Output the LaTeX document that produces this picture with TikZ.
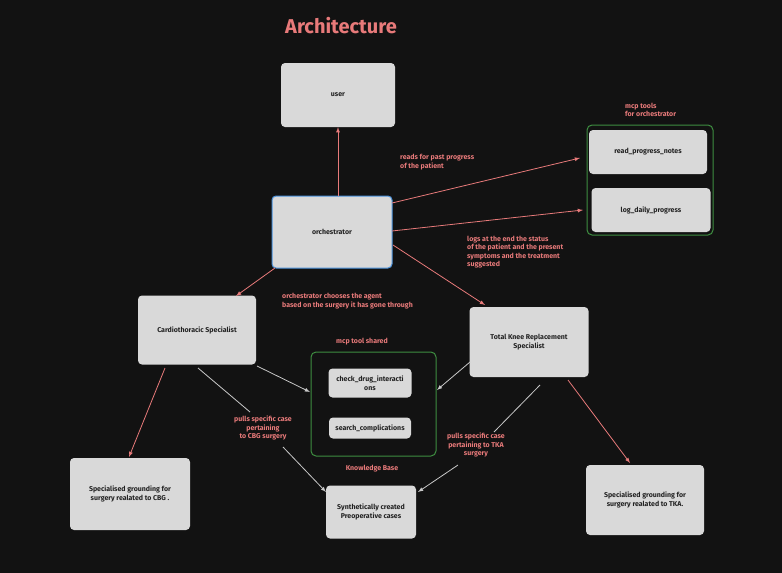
\documentclass[tikz,border=0pt]{standalone}
\usepackage{fontspec}
\setmainfont{Fira Sans}
\begin{document}
\begin{tikzpicture}[x=1pt,y=-1pt,
  box/.style={fill=boxc,rounded corners=4pt,draw=none,font=\bfseries\fontsize{7}{8.5}\selectfont,text=textc,align=center,inner sep=0pt},
  lab/.style={text=redc,font=\bfseries\fontsize{7}{8.5}\selectfont,inner sep=0pt},
  rarr/.style={draw=redc,line width=0.8pt,-latex},
  garr/.style={draw=grayc,line width=0.8pt,-latex},
  grp/.style={draw=greenc,line width=1pt,rounded corners=5pt}]
\definecolor{bgc}{HTML}{121212}
\definecolor{boxc}{HTML}{D9D9D9}
\definecolor{textc}{HTML}{222222}
\definecolor{redc}{HTML}{E87A7A}
\definecolor{greenc}{HTML}{3E8E41}
\definecolor{bluec}{HTML}{4A90D9}
\definecolor{grayc}{HTML}{C8C8C8}
\fill[bgc] (0,0) rectangle (782,573);
\useasboundingbox (0,0) rectangle (782,573);
\node[text=redc,font=\bfseries\fontsize{20}{24}\selectfont] (title) at (341,26) {Architecture};
\node[box,minimum width=114pt,minimum height=64pt] (user) at (338,95) {user};
\node[box,minimum width=120pt,minimum height=72pt,draw=bluec,line width=1pt] (orch) at (332,232) {orchestrator};
\node[grp,minimum width=126pt,minimum height=110pt] (tools) at (650,180) {};
\node[box,minimum width=118pt,minimum height=44pt] (read) at (648,152) {read\_progress\_notes};
\node[box,minimum width=119pt,minimum height=44pt] (log) at (651,210) {log\_daily\_progress};
\node[lab,align=left,anchor=west] (toolslab) at (625,110) {mcp tools\\for orchestrator};
\node[box,minimum width=118pt,minimum height=69pt] (cardio) at (197,330) {Cardiothoracic Specialist};
\node[box,minimum width=119pt,minimum height=70pt] (tkr) at (529,342) {Total Knee Replacement\\Specialist};
\node[grp,minimum width=125pt,minimum height=104pt] (shared) at (373.5,404) {};
\node[box,minimum width=83pt,minimum height=29pt] (drug) at (370,383) {check\_drug\_interacti\\ons};
\node[box,minimum width=82pt,minimum height=21pt] (search) at (370,428) {search\_complications};
\node[lab] (sharedlab) at (362,342) {mcp tool shared};
\node[lab] (kb) at (372,469) {Knowledge Base};
\node[box,minimum width=90pt,minimum height=53pt] (synth) at (371,512) {Synthetically created\\Preoperative cases};
\node[box,minimum width=120pt,minimum height=72pt] (cbg) at (130,494) {Specialised grounding for\\surgery realated to CBG .};
\node[box,minimum width=118pt,minimum height=70pt] (tka) at (645,500) {Specialised grounding for\\surgery realated to TKA.};
\node[lab,align=left,anchor=west] (l1) at (400,162) {reads for past progress\\of the patient};
\node[lab,align=left,anchor=west] (l2) at (467,252) {logs at the end the status\\of the patient and the present\\symptoms and the treatment\\suggested};
\node[lab,align=left,anchor=west] (l3) at (282,301) {orchestrator chooses the agent\\based on the surgery it has gone through};
\node[lab,align=center] (l4) at (263,428) {pulls specific case\\pertaining\\to CBG surgery};
\node[lab,align=center] (l5) at (476,445) {pulls specific case\\pertaining to TKA\\surgery};
\coordinate (o1) at (392,203);
\coordinate (o2) at (392,231);
\coordinate (o3) at (393,245);
\draw[rarr] (orch.north -| user.south) -- (user.south);
\draw[rarr] (o1) -- (580,158);
\draw[rarr] (o2) -- (583,210);
\draw[rarr] (o3) -- (485,305);
\draw[rarr] (275,268) -- (236,296);
\draw[rarr] (165,368) -- (129,457);
\draw[rarr] (568,380) -- (630,463);
\draw[garr] (257,366) -- (310,392);
\draw[garr] (470,362) -- (437,390);
\draw[grayc,line width=0.8pt] (198,368) -- (250,412);
\draw[garr] (283,447) -- (326,492);
\draw[grayc,line width=0.8pt] (540,385) -- (494,432);
\draw[garr] (458,465) -- (418,492);
\end{tikzpicture}
\end{document}
